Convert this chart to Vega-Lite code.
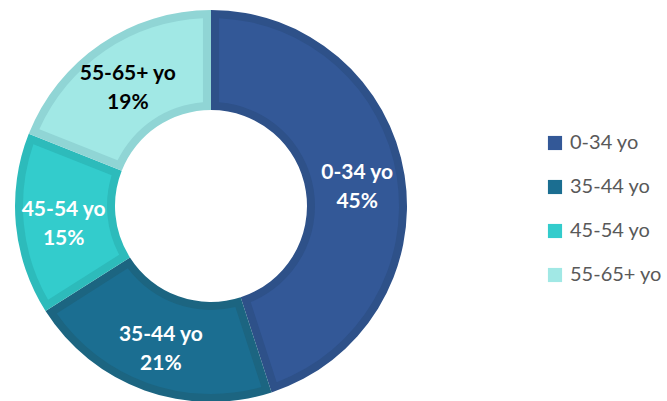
{
  "$schema": "https://vega.github.io/schema/vega-lite/v6.json",
  "width": 422,
  "height": 412,
  "padding": 0,
  "background": "white",
  "config": {"view": {"stroke": null}, "font": "Lato"},
  "data": {
    "values": [
      {"age": "0-34 yo", "pct": 45, "label": "0-34 yo\n45%", "order": 1},
      {"age": "35-44 yo", "pct": 21, "label": "35-44 yo\n21%", "order": 2},
      {"age": "45-54 yo", "pct": 15, "label": "45-54 yo\n15%", "order": 3},
      {"age": "55-65+ yo", "pct": 19, "label": "55-65+ yo\n19%", "order": 4}
    ]
  },
  "encoding": {
    "theta": {"field": "pct", "type": "quantitative", "stack": true},
    "order": {"field": "order", "type": "quantitative"}
  },
  "layer": [
    {
      "mark": {"type": "arc", "outerRadius": 196, "innerRadius": 96},
      "encoding": {
        "color": {
          "field": "age", "type": "nominal", "legend": null,
          "scale": {"domain": ["0-34 yo", "35-44 yo", "45-54 yo", "55-65+ yo"], "range": ["#2E5189", "#1C6581", "#2DBBBB", "#90D5D5"]}
        }
      }
    },
    {
      "mark": {"type": "arc", "outerRadius": 188, "innerRadius": 104, "padAngle": 0.075},
      "encoding": {
        "color": {
          "field": "age", "type": "nominal", "title": null,
          "scale": {"domain": ["0-34 yo", "35-44 yo", "45-54 yo", "55-65+ yo"], "range": ["#335897", "#1B6E91", "#33CCCC", "#A1E8E5"]},
          "legend": {
            "orient": "none", "legendX": 545, "legendY": 133, "padding": 0,
            "symbolType": "square", "symbolSize": 200, "symbolStrokeWidth": 1,
            "labelFontSize": 20, "labelColor": "#595959", "labelFont": "Lato",
            "labelOffset": 5, "rowPadding": 24
          }
        }
      }
    },
    {
      "mark": {"type": "text", "radius": 148, "fontSize": 21, "fontWeight": "bold", "lineHeight": 29, "lineBreak": "\n", "baseline": "middle", "align": "center", "font": "Lato", "dy": -10},
      "encoding": {
        "text": {"field": "label", "type": "nominal"},
        "color": {"condition": {"test": "datum.age === '55-65+ yo'", "value": "#000000"}, "value": "#FFFFFF"}
      }
    }
  ],
  "resolve": {"scale": {"color": "independent"}}
}
